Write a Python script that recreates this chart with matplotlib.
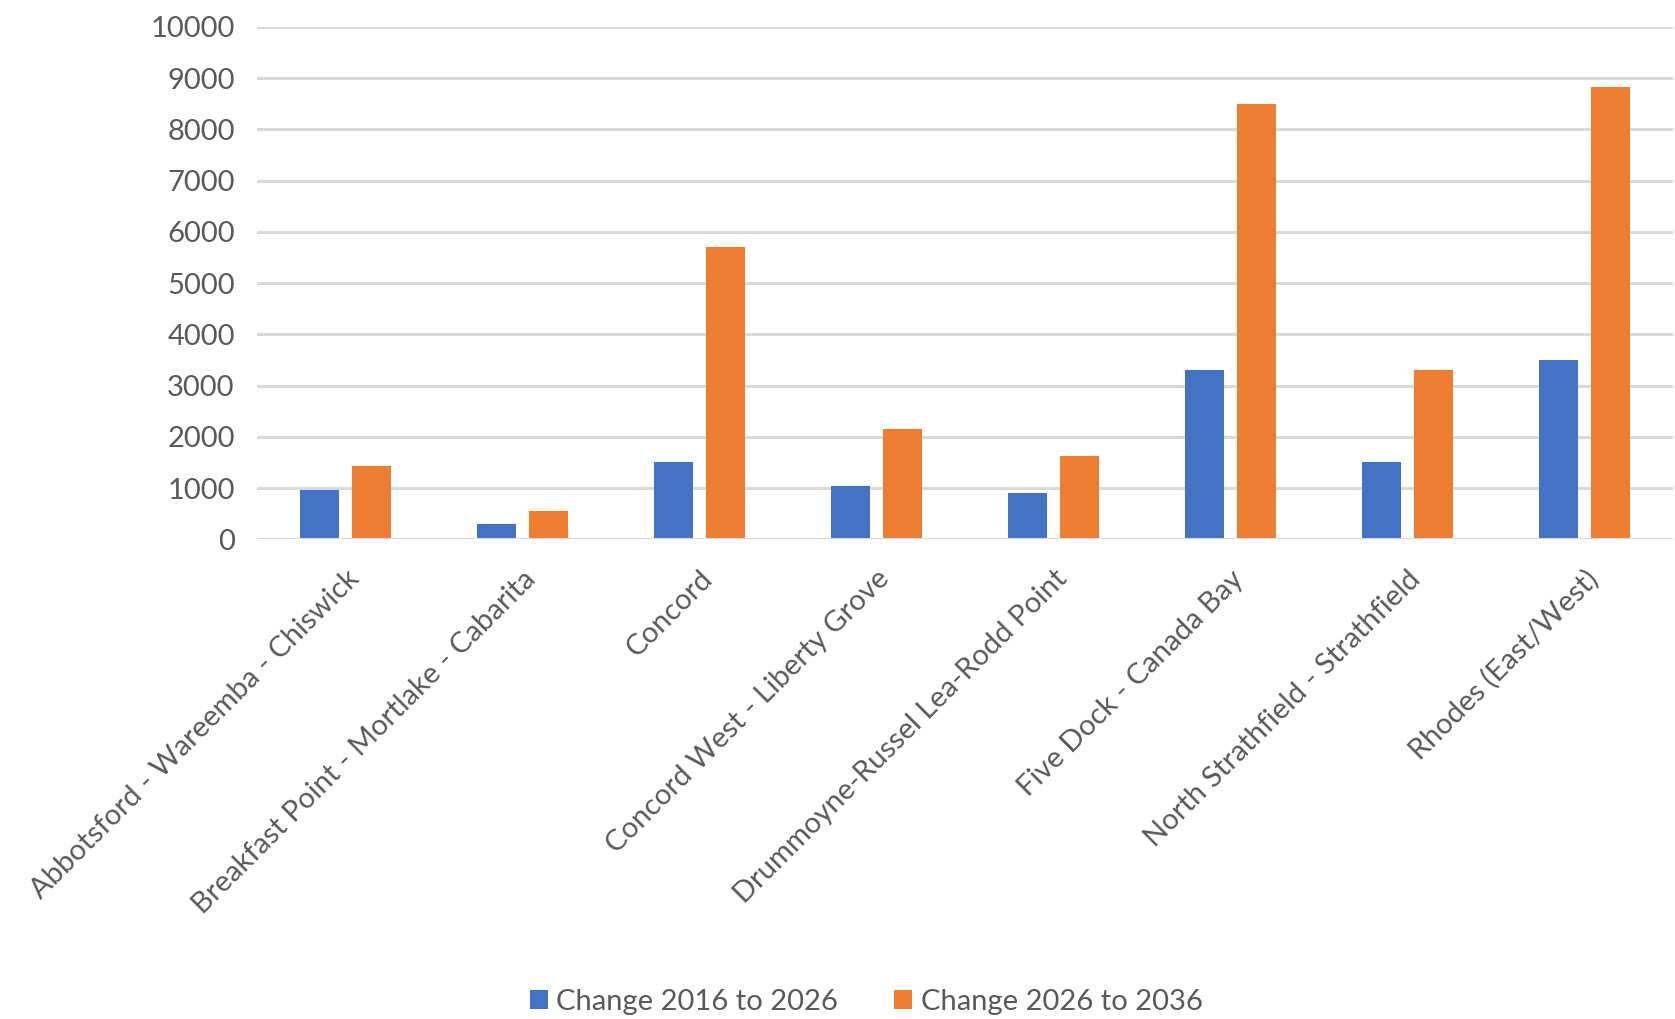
import matplotlib
matplotlib.use('Agg')
import matplotlib.pyplot as plt
from matplotlib.patches import Patch
import numpy as np

# Styles:
blueColour = '#4472C4'
orangeColour = '#ED7D31'
gridColour = '#D9D9D9'
textColour = '#595959'
font_tick = 21

plt.rcParams['font.family'] = ['Lato', 'DejaVu Sans']

# Data:
areas = ['Abbotsford - Wareemba - Chiswick',
         'Breakfast Point - Mortlake - Cabarita',
         'Concord',
         'Concord West - Liberty Grove',
         'Drummoyne-Russel Lea-Rodd Point',
         'Five Dock - Canada Bay',
         'North Strathfield - Strathfield',
         'Rhodes (East/West)']
change_2016_2026 = [960, 300, 1500, 1040, 900, 3300, 1500, 3500]
change_2026_2036 = [1430, 560, 5700, 2160, 1630, 8500, 3300, 8830]
series_names = ['Change 2016 to 2026', 'Change 2026 to 2036']
yticks = np.arange(0, 10001, 1000)

fig = plt.figure(figsize=(16.75, 10.19), dpi=100)
ax = fig.add_axes([0.1534, 0.4708, 0.8454, 0.5029])

x = np.arange(len(areas))
barWidth = 0.22
offset = 0.147
ax.bar(x - offset, change_2016_2026, width=barWidth, color=blueColour, zorder=2)
ax.bar(x + offset, change_2026_2036, width=barWidth, color=orangeColour, zorder=2)

ax.set_xlim(-0.5, len(areas) - 0.5)
ax.set_ylim(0, 10000)
ax.set_yticks(yticks)
ax.set_yticklabels([str(v) for v in yticks])

# Horizontal gridlines, axis line at zero drawn over the bars
ax.yaxis.grid(True, color=gridColour, linewidth=2.2, zorder=1)
ax.axhline(0, color=gridColour, linewidth=2.2, zorder=3)
ax.set_axisbelow(True)

for side in ['top', 'right', 'left', 'bottom']:
    ax.spines[side].set_visible(False)

ax.tick_params(axis='y', length=0, pad=16, labelsize=font_tick, labelcolor=textColour)
ax.tick_params(axis='x', length=0, pad=19, labelsize=font_tick, labelcolor=textColour)
ax.set_xticks(x)
ax.set_xticklabels(areas, rotation=45, ha='right', va='top', rotation_mode='anchor')

handles = [Patch(facecolor=blueColour), Patch(facecolor=orangeColour)]
fig.legend(handles, series_names, loc='center', bbox_to_anchor=(0.517, 0.017),
           ncol=2, frameon=False, fontsize=font_tick, labelcolor=textColour,
           handlelength=0.62, handleheight=0.62, handletextpad=0.3,
           columnspacing=1.9)

plt.savefig('out.png', dpi=100)
